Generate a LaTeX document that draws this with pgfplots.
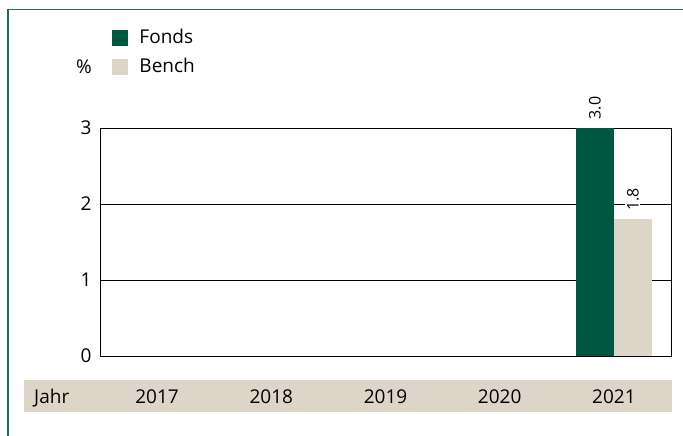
\documentclass[border=0pt]{standalone}
\usepackage{pgfplots}
\pgfplotsset{compat=1.18}
\usepackage{fontspec}
\setmainfont{Open Sans}
\definecolor{fgreen}{HTML}{00573F}
\definecolor{beige}{HTML}{DDD5C8}
\definecolor{framegreen}{HTML}{1F6E4E}
\begin{document}
\fontsize{19pt}{22pt}\selectfont
\begin{tikzpicture}[x=1pt,y=1pt]
\useasboundingbox (0,0) rectangle (683,436);
\draw[framegreen,line width=1.5pt] (8,0) -- (8,426.5) -- (683,426.5);
\fill[beige] (24,24) rectangle (672,56);
\node[anchor=base west,inner sep=0pt] at (34,32) {Jahr};
\node[anchor=base east,inner sep=0pt] at (92,362) {\%};
\begin{axis}[
  at={(100pt,80pt)}, anchor=south west,
  width=571pt, height=228pt, scale only axis,
  xmin=-0.5, xmax=4.5, ymin=0, ymax=3,
  ytick={0,1,2,3},
  xtick={0,1,2,3,4},
  xticklabels={2017,2018,2019,2020,2021},
  xticklabel style={anchor=base, yshift=-48pt},
  yticklabel style={xshift=-2pt},
  major tick length=0pt,
  /pgf/number format/assume math mode=true,
  axis line style={black, line width=0.9pt},
  ymajorgrids, grid style={black, line width=0.9pt},
  ybar, bar width=38pt,
  nodes near coords,
  nodes near coords style={/pgf/number format/.cd, fixed, fixed zerofill, precision=1, /tikz/.cd,
     font=\fontsize{16pt}{18pt}\selectfont, rotate=90, anchor=west, fill=white, inner sep=1.5pt, xshift=7pt},
  legend style={at={(0.0215,1.443)}, anchor=north west, draw=none, fill=none,
     row sep=8pt, inner sep=0pt, nodes={inner sep=2pt}},
  legend cell align=left,
  legend image code/.code={\fill[#1] (0pt,-8pt) rectangle (16pt,8pt);},
]
\addplot[fill=fgreen, draw=none, bar shift=-19pt] coordinates {(4,3.0)};
\addplot[fill=beige, draw=none, bar shift=19pt] coordinates {(4,1.8)};
\legend{\hspace{9pt}Fonds,\hspace{9pt}Bench}
\end{axis}
\end{tikzpicture}
\end{document}
